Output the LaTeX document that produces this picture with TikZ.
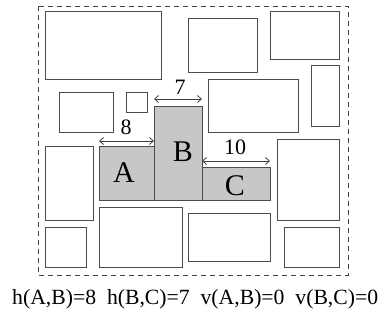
\documentclass[tikz,border=0pt]{standalone}
\usepackage{fontspec}
\setmainfont{Liberation Serif}
\usetikzlibrary{arrows.meta}
\begin{document}
\begin{tikzpicture}[x=1pt,y=-1pt,
  box/.style={draw=black!70,line width=1pt},
  mod/.style={box,fill=black!22},
  dim/.style={draw=black!75,line width=0.8pt,{Straight Barb[length=4pt,width=7pt]}-{Straight Barb[length=4pt,width=7pt]}},
  lab/.style={font=\fontsize{30}{30}\selectfont},
  num/.style={font=\fontsize{22}{22}\selectfont}]
\useasboundingbox (0,0) rectangle (381,320);
\draw[draw=black!75,line width=0.9pt,dash pattern=on 5pt off 4pt] (38,6) rectangle (348,275);
% plain blocks
\draw[box] (45,12) rectangle (161,80);
\draw[box] (188,19) rectangle (257,73);
\draw[box] (270,12) rectangle (339,60);
\draw[box] (311,66) rectangle (339,127);
\draw[box] (59,93) rectangle (113,133);
\draw[box] (126,93) rectangle (147,113);
\draw[box] (208,80) rectangle (298,133);
\draw[box] (45,147) rectangle (93,221);
\draw[box] (277,140) rectangle (339,221);
\draw[box] (45,228) rectangle (86,268);
\draw[box] (99,208) rectangle (182,268);
\draw[box] (188,214) rectangle (270,262);
\draw[box] (284,228) rectangle (339,268);
% modules
\draw[mod] (99,147) rectangle (154,201);
\draw[mod] (154,107) rectangle (202,201);
\draw[mod] (202,168) rectangle (270,201);
\node[lab] (A) at (124,173) {A};
\node[lab] (B) at (183,152) {B};
\node[lab] (C) at (235,186) {C};
% dimension arrows
\coordinate (a1) at (99,141); \coordinate (a2) at (154,141);
\coordinate (b1) at (154,99); \coordinate (b2) at (202,99);
\coordinate (c1) at (202,161); \coordinate (c2) at (270,161);
\draw[dim] (a1) -- (a2);
\draw[dim] (b1) -- (b2);
\draw[dim] (c1) -- (c2);
\node[num] (n8) at (126,127) {8};
\node[num] (n7) at (180,87) {7};
\node[num] (n10) at (235,147) {10};
\node[num,anchor=west,inner sep=0pt,font=\fontsize{21.7}{22}\selectfont] (eq) at (12,299) {h(A,B)=8\ \ h(B,C)=7\ \ v(A,B)=0\ \ v(B,C)=0};
\end{tikzpicture}
\end{document}
